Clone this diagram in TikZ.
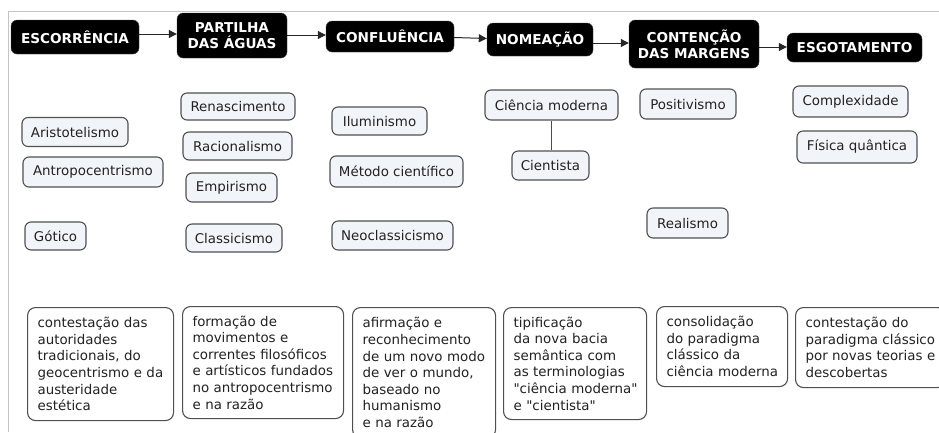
\documentclass[tikz,border=0pt]{standalone}
\usepackage{fontspec}
\setmainfont{DejaVu Sans}
\newfontfamily\qfont{DejaVu Sans}
\usetikzlibrary{arrows.meta}
\definecolor{cfill}{HTML}{F1F5F9}
\definecolor{cborder}{HTML}{505050}
\definecolor{txt}{HTML}{222222}
\definecolor{frame}{HTML}{C4C4C4}
\newcommand{\dq}{{\qfont\symbol{34}}}
\newcommand{\lin}[1]{\mbox{#1}}
\tikzset{
  hdr/.style={fill=black, draw=black!70, rounded corners=6pt, text=white, align=center,
    font=\bfseries\fontsize{13.6}{16}\selectfont, inner sep=0pt},
  concept/.style={fill=cfill, draw=cborder, line width=1.1pt, rounded corners=6pt, text=txt,
    font=\fontsize{13.4}{16}\selectfont, inner sep=0pt},
  desc/.style={fill=white, draw=cborder, line width=1.1pt, rounded corners=8pt, text=txt,
    font=\fontsize{13.4}{16.6}\selectfont,
    align=left, anchor=north west, inner xsep=10pt, inner ysep=0pt},
  flow/.style={draw=black!85, line width=1pt, -{Triangle[length=8pt,width=8pt]}},
  link/.style={draw=black!70, line width=1.1pt}
}
\begin{document}
\begin{tikzpicture}[x=1pt,y=-1pt]
\useasboundingbox (0,0) rectangle (939,432);
\draw[frame, line width=1pt] (8,432) -- (8,11) -- (939,11);

% header nodes
\node[hdr, minimum width=128, minimum height=34] (h1) at (75,37) {ESCORRÊNCIA};
\node[hdr, minimum width=110, minimum height=45] (h2) at (232,35.5) {PARTILHA\\DAS ÁGUAS};
\node[hdr, minimum width=128, minimum height=31] (h3) at (390,36.5) {CONFLUÊNCIA};
\node[hdr, minimum width=106, minimum height=33] (h4) at (540,39.5) {NOMEAÇÃO};
\node[hdr, minimum width=130, minimum height=48] (h5) at (694,44) {CONTENÇÃO\\DAS MARGENS};
\node[hdr, minimum width=135, minimum height=29] (h6) at (854.5,47.5) {ESGOTAMENTO};

\draw[flow] (h1.east |- 0,34) -- (h2.west |- 0,34);
\draw[flow] (h2.east |- 0,35) -- (h3.west |- 0,35);
\draw[flow] (h3.east |- 0,37.5) -- (h4.west |- 0,38.5);
\draw[flow] (h4.east |- 0,43) -- (h5.west |- 0,43);
\draw[flow] (h5.east |- 0,47) -- (h6.west |- 0,47);

% concepts
\node[concept, minimum width=106, minimum height=29] (c11) at (75,132) {Aristotelismo};
\node[concept, minimum width=140, minimum height=30] (c12) at (93,172) {Antropocentrismo};
\node[concept, minimum width=61, minimum height=28] (c13) at (55.5,236) {Gótico};

\node[concept, minimum width=114, minimum height=27] (c21) at (238,106.5) {Renascimento};
\node[concept, minimum width=109, minimum height=28] (c22) at (237.5,146) {Racionalismo};
\node[concept, minimum width=91, minimum height=29] (c23) at (231.5,187.5) {Empirismo};
\node[concept, minimum width=96, minimum height=28] (c24) at (234,238) {Classicismo};

\node[concept, minimum width=95, minimum height=28] (c31) at (379.5,121) {Iluminismo};
\node[concept, minimum width=133, minimum height=31] (c32) at (396.5,171.5) {Método científico};
\node[concept, minimum width=121, minimum height=29] (c33) at (392.5,235.5) {Neoclassicismo};

\node[concept, minimum width=133, minimum height=30] (c41) at (551.5,105) {Ciência moderna};
\node[concept, minimum width=77, minimum height=29] (c42) at (550.5,165.5) {Cientista};
\draw[link] (c41.south) -- (c41.south |- c42.north);

\node[concept, minimum width=96, minimum height=30] (c51) at (688,104) {Positivismo};
\node[concept, minimum width=81, minimum height=30] (c52) at (687.5,223) {Realismo};

\node[concept, minimum width=115, minimum height=31] (c61) at (850.5,101.5) {Complexidade};
\node[concept, minimum width=120, minimum height=32] (c62) at (857,147) {Física quântica};

% descriptions
\node[desc, text width=126, minimum height=113] (d1) at (27,307)
  {\lin{contestação das}\\\lin{autoridades}\\\lin{tradicionais, do}\\\lin{geocentrismo e da}\\\lin{austeridade}\\\lin{estética}};
\node[desc, text width=141, minimum height=112] (d2) at (182,306)
  {\lin{formação de}\\\lin{movimentos e}\\\lin{correntes filosóficos}\\\lin{e artísticos fundados}\\\lin{no antropocentrismo}\\\lin{e na razão}};
\node[desc, text width=123, minimum height=130] (d3) at (352,307)
  {\lin{afirmação e}\\\lin{reconhecimento}\\\lin{de um novo modo}\\\lin{de ver o mundo,}\\\lin{baseado no}\\\lin{humanismo}\\\lin{e na razão}};
\node[desc, text width=123, minimum height=112] (d4) at (503,307)
  {\lin{tipificação}\\\lin{da nova bacia}\\\lin{semântica com}\\\lin{as terminologias}\\\lin{\dq ciência moderna\dq}\\\lin{e \dq cientista\dq}};
\node[desc, text width=111, minimum height=80] (d5) at (656,306)
  {\lin{consolidação}\\\lin{do paradigma}\\\lin{clássico da}\\\lin{ciência moderna}};
\node[desc, text width=130, minimum height=80] (d6) at (795,307)
  {\lin{contestação do}\\\lin{paradigma clássico}\\\lin{por novas teorias e}\\\lin{descobertas}};
\end{tikzpicture}
\end{document}
